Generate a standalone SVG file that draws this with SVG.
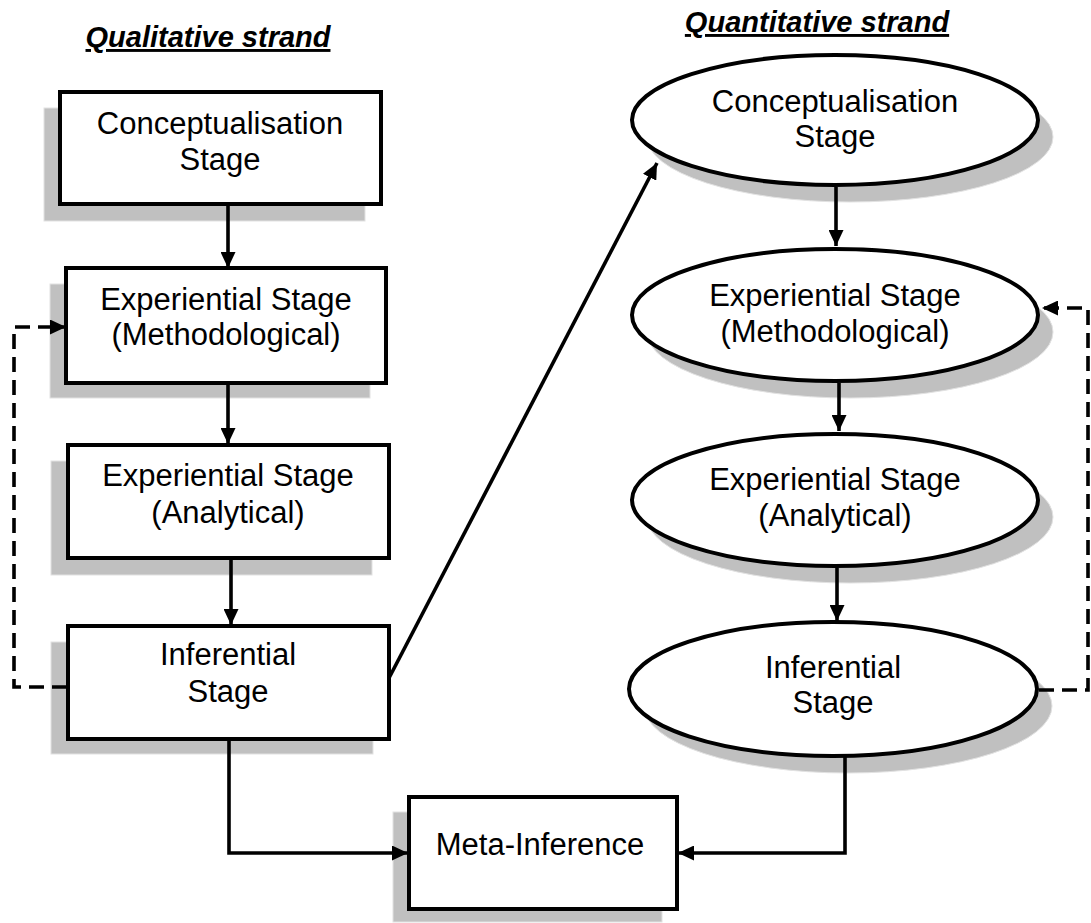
<svg xmlns="http://www.w3.org/2000/svg" width="1091" height="923" viewBox="0 0 1091 923">
<style>
.box{fill:#fff;stroke:#000;stroke-width:4}
.shadow{fill:#c0c0c0;stroke:#e2e2e2;stroke-width:1}
.t{font-family:"Liberation Sans",Arial,sans-serif;font-size:31px;fill:#000;text-anchor:middle}
.title{font-family:"Liberation Sans",Arial,sans-serif;font-size:29px;font-weight:bold;font-style:italic;text-decoration:underline;fill:#000;text-anchor:middle}
.c{fill:none;stroke:#000;stroke-width:3.6}
.d{fill:none;stroke:#000;stroke-width:3.6;stroke-dasharray:15 8}
</style>
<defs>
<marker id="ah" markerUnits="userSpaceOnUse" markerWidth="16" markerHeight="15" refX="16" refY="7.5" orient="auto">
<path d="M0,0 L16,7.5 L0,15 z" fill="#000"/>
</marker>
</defs>
<rect width="1091" height="923" fill="#fff"/>
<text class="title" x="208" y="47">Qualitative strand</text>
<text class="title" x="817" y="32">Quantitative strand</text>

<g id="qual-conceptualisation">
<rect class="shadow" x="44" y="108" width="321" height="113"/>
<rect class="box" x="60" y="92" width="321" height="112"/>
<text class="t" x="220" y="134">Conceptualisation</text>
<text class="t" x="220" y="170">Stage</text>
</g>
<g id="qual-exp-methodological">
<rect class="shadow" x="50" y="284" width="320" height="114"/>
<rect class="box" x="66" y="268" width="320" height="115"/>
<text class="t" x="226" y="310">Experiential Stage</text>
<text class="t" x="226" y="345">(Methodological)</text>
</g>
<g id="qual-exp-analytical">
<rect class="shadow" x="51" y="461" width="321" height="114"/>
<rect class="box" x="68" y="445" width="321" height="113"/>
<text class="t" x="228" y="486">Experiential Stage</text>
<text class="t" x="228" y="523">(Analytical)</text>
</g>
<g id="qual-inferential">
<rect class="shadow" x="51" y="642" width="322" height="112"/>
<rect class="box" x="68" y="626" width="321" height="113"/>
<text class="t" x="228" y="665">Inferential</text>
<text class="t" x="228" y="702">Stage</text>
</g>
<g id="meta-inference">
<rect class="shadow" x="393" y="812" width="269" height="110"/>
<rect class="box" x="409" y="797" width="268" height="112"/>
<text class="t" x="540" y="855">Meta-Inference</text>
</g>

<g id="quant-conceptualisation">
<ellipse class="shadow" cx="850" cy="137" rx="203" ry="65"/>
<ellipse class="box" cx="835" cy="120" rx="203" ry="65"/>
<text class="t" x="835" y="112">Conceptualisation</text>
<text class="t" x="835" y="147">Stage</text>
</g>
<g id="quant-exp-methodological">
<ellipse class="shadow" cx="850" cy="332" rx="203" ry="66"/>
<ellipse class="box" cx="835" cy="315" rx="203" ry="66"/>
<text class="t" x="835" y="306">Experiential Stage</text>
<text class="t" x="835" y="342">(Methodological)</text>
</g>
<g id="quant-exp-analytical">
<ellipse class="shadow" cx="850" cy="517" rx="203" ry="66"/>
<ellipse class="box" cx="835" cy="500" rx="203" ry="66"/>
<text class="t" x="835" y="490">Experiential Stage</text>
<text class="t" x="835" y="526">(Analytical)</text>
</g>
<g id="quant-inferential">
<ellipse class="shadow" cx="848" cy="706" rx="204" ry="67"/>
<ellipse class="box" cx="833" cy="689" rx="204" ry="67"/>
<text class="t" x="833" y="678">Inferential</text>
<text class="t" x="833" y="713">Stage</text>
</g>

<g id="connectors">
<line class="c" x1="228" y1="206" x2="228" y2="268" marker-end="url(#ah)"/>
<line class="c" x1="228" y1="385" x2="228" y2="444" marker-end="url(#ah)"/>
<line class="c" x1="231" y1="560" x2="231" y2="625" marker-end="url(#ah)"/>
<line class="c" x1="389" y1="678" x2="657" y2="163" marker-end="url(#ah)"/>
<polyline class="c" points="229,741 229,853 408,853" marker-end="url(#ah)"/>
<polyline class="c" points="845,756 845,853 678,853" marker-end="url(#ah)"/>
<line class="c" x1="836" y1="187" x2="836" y2="246" marker-end="url(#ah)"/>
<line class="c" x1="839" y1="383" x2="839" y2="431" marker-end="url(#ah)"/>
<line class="c" x1="837" y1="568" x2="837" y2="621" marker-end="url(#ah)"/>
<polyline class="d" points="67,687 14,687 14,327 66,327" marker-end="url(#ah)"/>
<polyline class="d" points="1039,690 1088,690 1088,308 1042,308" marker-end="url(#ah)"/>
</g>
</svg>
